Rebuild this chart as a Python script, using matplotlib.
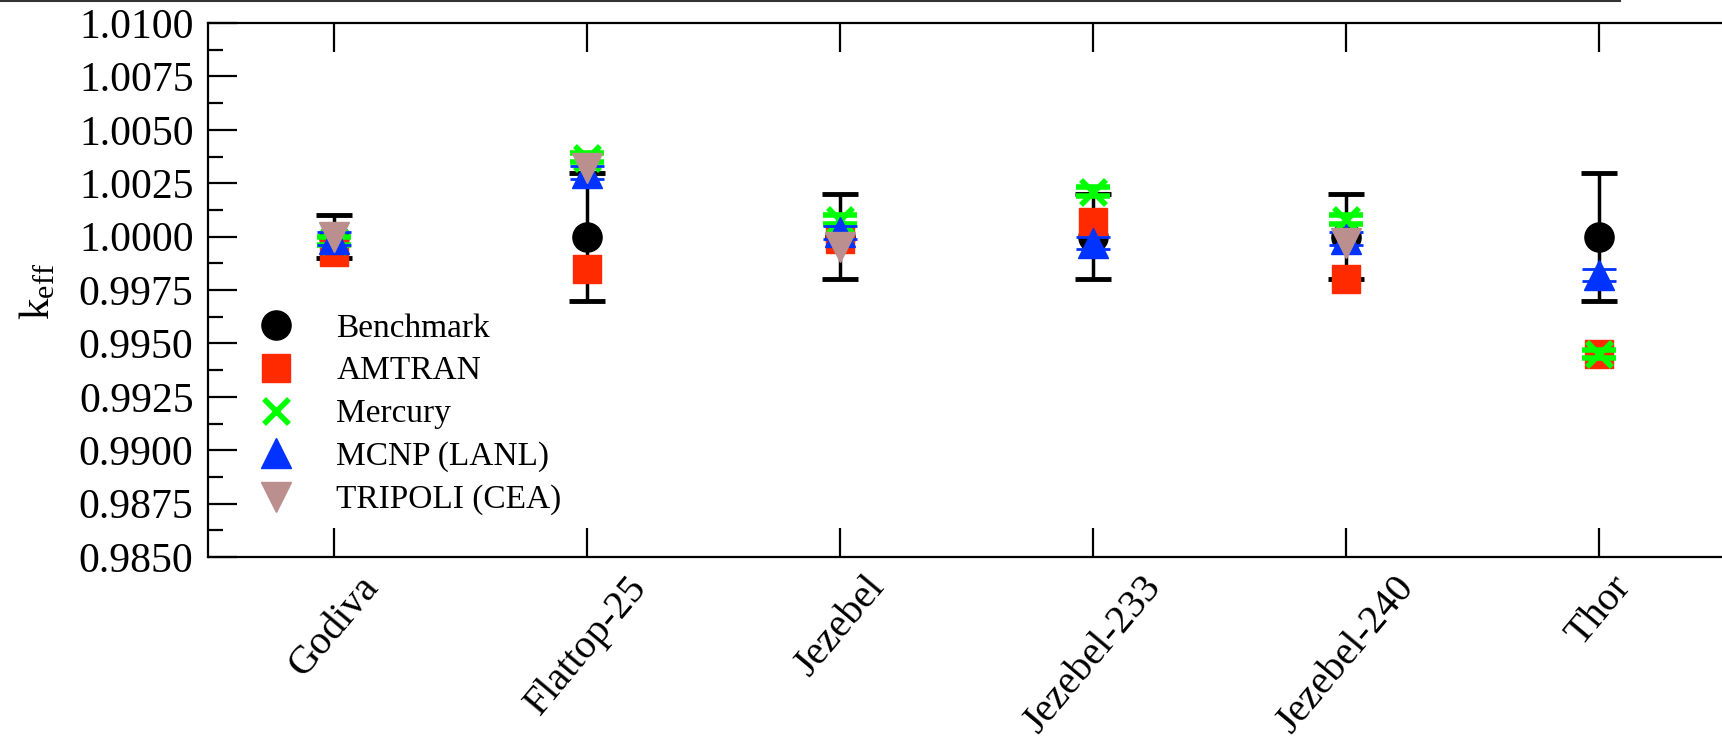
import numpy as np
import matplotlib
matplotlib.use("Agg")
import matplotlib.pyplot as plt
from matplotlib.lines import Line2D
from matplotlib.ticker import MultipleLocator, FormatStrFormatter

plt.rcParams['font.family'] = ['Liberation Serif', 'DejaVu Serif']
plt.rcParams['mathtext.fontset'] = 'custom'
plt.rcParams['mathtext.rm'] = 'Liberation Serif'

# benchmark values
categories = ['Godiva', 'Flattop-25', 'Jezebel', 'Jezebel-233', 'Jezebel-240', 'Thor']
benchmark = [1.0000, 1.0000, 1.0000, 1.0000, 1.0000, 1.0000]
benchmark_err = [0.0010, 0.0030, 0.0020, 0.0020, 0.0020, 0.0030]
amtran = [0.9993, 0.9985, 0.9999, 1.0007, 0.9980, 0.9945]
mercury = [0.9998, 1.0037, 1.0008, 1.0021, 1.0008, 0.9945]
mercury_err = [0.0002, 0.0002, 0.0002, 0.0002, 0.0002, 0.0002]
mcnp = [0.9999, 1.0030, 1.0002, 0.9997, 0.9999, 0.9982]
mcnp_err = [0.0003, 0.0003, 0.0003, 0.0003, 0.0003, 0.0003]
tripoli = [1.0000, 1.0032, 0.9995, np.nan, 0.9997, np.nan]

W, H = 1722, 742
fig = plt.figure(figsize=(W / 100, H / 100), dpi=100)
ax = fig.add_axes([207.5 / W, 1 - 557 / H, 1518 / W, 534 / H])

x = np.arange(1, len(categories) + 1)

c_amt = '#ff2a00'
c_mer = '#00ff00'
c_mcnp = '#0033ff'
c_tri = '#bc8f8f'

# drawing order: benchmark at the back, TRIPOLI on top
ax.errorbar(x, benchmark, yerr=benchmark_err, fmt='o', color='k', ms=21,
            elinewidth=2.5, capsize=13, capthick=3.5, zorder=2)
ax.plot(x, amtran, 's', color=c_amt, ms=20, zorder=3)
ax.errorbar(x, mercury, yerr=mercury_err, fmt='x', color=c_mer, ms=18, mew=4,
            elinewidth=2, capsize=12, capthick=2, zorder=4)
ax.errorbar(x, mcnp, yerr=mcnp_err, fmt='^', color=c_mcnp, ms=22,
            elinewidth=2, capsize=12, capthick=2, zorder=5)
ax.plot(x, tripoli, 'v', color=c_tri, ms=22, zorder=6)

ax.set_xlim(0.5, 6.5)
ax.set_ylim(0.985, 1.010)
ax.set_xticks(x)
ax.set_xticklabels(categories, rotation=50, ha='center')
ax.yaxis.set_major_locator(MultipleLocator(0.0025))
ax.yaxis.set_minor_locator(MultipleLocator(0.00125))
ax.yaxis.set_major_formatter(FormatStrFormatter('%.4f'))

for s in ['top', 'left', 'bottom']:
    ax.spines[s].set_linewidth(1.6)
ax.spines['right'].set_visible(False)

ax.tick_params(axis='x', which='major', direction='in', top=True, bottom=True,
               length=21, width=1.6, labelsize=29, pad=9)
ax.tick_params(axis='x', which='minor', top=False, bottom=False)
ax.tick_params(axis='y', which='major', direction='in', left=True, right=False,
               length=21, width=1.6, labelsize=30, pad=10)
ax.tick_params(axis='y', which='minor', direction='in', left=True, right=False,
               length=11, width=1.6)

fig.text(38 / W, 1 - 291 / H, r'$\mathregular{k_{eff}}$', rotation=90,
         ha='center', va='center', fontsize=31)

handles = [
    Line2D([], [], ls='none', marker='o', color='k', ms=21),
    Line2D([], [], ls='none', marker='s', color=c_amt, ms=20),
    Line2D([], [], ls='none', marker='x', color=c_mer, ms=18, mew=4),
    Line2D([], [], ls='none', marker='^', color=c_mcnp, ms=22),
    Line2D([], [], ls='none', marker='v', color=c_tri, ms=22),
]
labels = ['Benchmark', 'AMTRAN', 'Mercury', 'MCNP (LANL)', 'TRIPOLI (CEA)']
fig.legend(handles, labels, loc='upper left', bbox_to_anchor=(243 / W, 1 - 313 / H),
           frameon=False, fontsize=24, handlelength=2, handletextpad=0.8,
           labelspacing=0.37, borderpad=0, borderaxespad=0)

# thin border line at the very top of the picture
fig.add_artist(Line2D([0, 1620 / W], [1 - 1 / H, 1 - 1 / H], transform=fig.transFigure,
                      color='#333333', lw=1.5))

fig.savefig('out.png', dpi=100)
